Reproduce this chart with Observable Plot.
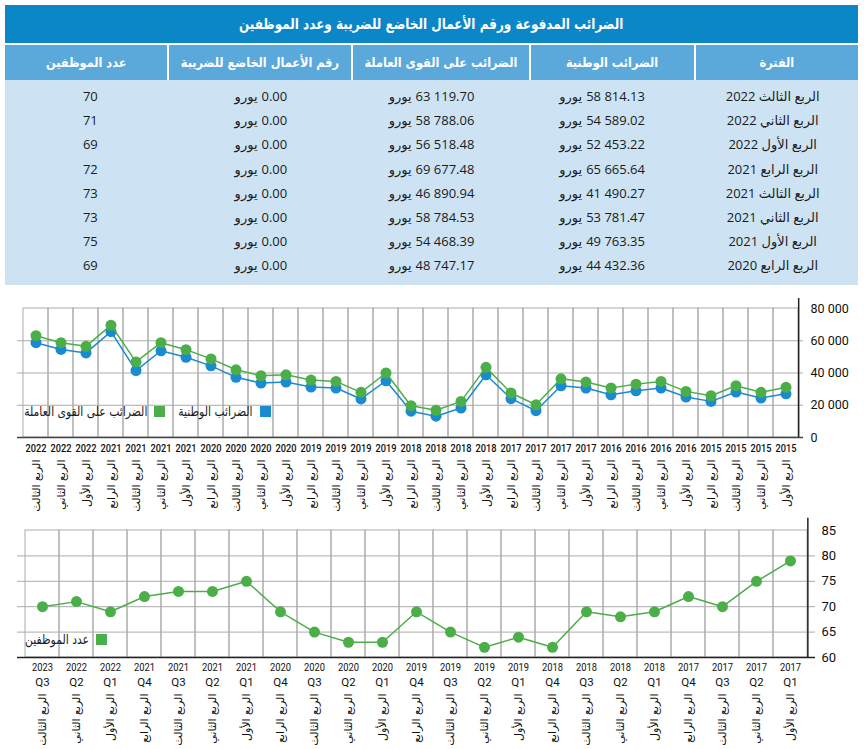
<!DOCTYPE html>
<html>
<head>
<meta charset="utf-8">
<script src="https://cdn.jsdelivr.net/npm/d3@7"></script>
<script src="https://cdn.jsdelivr.net/npm/@observablehq/plot@0.6"></script>
<style>
  body { margin:0; background:#fff; width:864px; height:749px; position:relative; overflow:hidden;
         font-family:"Open Sans","DejaVu Sans",sans-serif; }
  .title { position:absolute; left:5px; top:5px; width:853px; height:38px; line-height:38px;
           background:#0b87c8; color:#fff; text-align:center; font-weight:bold; font-size:15px;
           font-family:"DejaVu Sans",sans-serif; direction:rtl; }
  .title span { display:inline-block; transform:scaleX(0.8); transform-origin:center; white-space:nowrap; }
  .header { position:absolute; left:5px; top:45px; width:853px; height:35px; display:flex; direction:rtl; }
  .header div { flex:1; background:#5ba8da; color:#fff; font-weight:bold; font-size:13px; line-height:35px;
                text-align:center; font-family:"DejaVu Sans",sans-serif; border-left:2px solid #fff;
                white-space:nowrap; overflow:visible; }
  .header div span { display:inline-block; transform:scaleX(0.87); transform-origin:center; }
  .header div:last-child { border-left:none; }
  .rows { position:absolute; left:5px; top:80px; width:853px; height:205px; background:#cde3f4;
          box-sizing:border-box; padding-top:4px; }
  .row { display:flex; direction:rtl; height:24.2px; line-height:24.2px; }
  .row > div { flex:1; text-align:center; font-size:13px; color:#1b1b1b; display:flex; justify-content:center; }
  .row > div.val { direction:ltr; }
  .row > div.val span.cur { margin-right:4px; }
  .chart { position:absolute; left:0; }
  .legend { position:absolute; font-size:13px; color:#1b1b1b; font-family:"DejaVu Sans",sans-serif;
            display:flex; align-items:center; direction:rtl; white-space:nowrap; }
  .legend .sw { width:11px; height:11px; margin-left:7px; flex:none; }
  .legend .tx { display:inline-block; transform:scaleX(0.83); transform-origin:right center; }
</style>
</head>
<body>
<div class="title"><span id="title"></span></div>
<div class="header" id="header"></div>
<div class="rows" id="rows"></div>
<div class="chart" id="chart1" style="top:290px"></div>
<div class="chart" id="chart2" style="top:512px"></div>
<script>
// ---------- data ----------
const tableTitle = "الضرائب المدفوعة ورقم الأعمال الخاضع للضريبة وعدد الموظفين";
const tableHeaders = ["الفترة", "الضرائب الوطنية", "الضرائب على القوى العاملة", "رقم الأعمال الخاضع للضريبة", "عدد الموظفين"];
const tablePeriods = ["الربع الثالث 2022", "الربع الثاني 2022", "الربع الأول 2022", "الربع الرابع 2021",
                      "الربع الثالث 2021", "الربع الثاني 2021", "الربع الأول 2021", "الربع الرابع 2020"];
const tableNational = [58814.13, 54589.02, 52453.22, 65665.64, 41490.27, 53781.47, 49763.35, 44432.36];
const tableLabor = [63119.70, 58788.06, 56518.48, 69677.48, 46890.94, 58784.53, 54468.39, 48747.17];
const tableTurnover = [0, 0, 0, 0, 0, 0, 0, 0];
const tableEmployees = [70, 71, 69, 72, 73, 73, 75, 69];
const currency = "يورو";

const quarterNames = { Q1: "الربع الأول", Q2: "الربع الثاني", Q3: "الربع الثالث", Q4: "الربع الرابع" };

const chart1Periods = ["2022 Q3","2022 Q2","2022 Q1",
  "2021 Q4","2021 Q3","2021 Q2","2021 Q1",
  "2020 Q4","2020 Q3","2020 Q2","2020 Q1",
  "2019 Q4","2019 Q3","2019 Q2","2019 Q1",
  "2018 Q4","2018 Q3","2018 Q2","2018 Q1",
  "2017 Q4","2017 Q3","2017 Q2","2017 Q1",
  "2016 Q4","2016 Q3","2016 Q2","2016 Q1",
  "2015 Q4","2015 Q3","2015 Q2","2015 Q1"];
const chart1National = [58814, 54589, 52453, 65666, 41490, 53781, 49763, 44432,
  37300, 33800, 34400, 31300, 30700, 23900, 35200, 16300,
  13200, 18300, 38900, 24100, 16600, 32100, 30700, 26500,
  29000, 30700, 25100, 22400, 28200, 24500, 27100];
const chart1Labor = [63120, 58788, 56518, 69677, 46891, 58785, 54468, 48747,
  42000, 38300, 38900, 35600, 34800, 28000, 40000, 19700,
  16900, 22400, 43500, 27600, 20300, 36400, 34400, 30700,
  33100, 34800, 28600, 25900, 32100, 28000, 31100];
const chart1Ticks = [0, 20000, 40000, 60000, 80000];
const chart1Legend = ["الضرائب الوطنية", "الضرائب على القوى العاملة"];

const chart2Periods = ["2023 Q3","2022 Q2","2022 Q1",
  "2021 Q4","2021 Q3","2021 Q2","2021 Q1",
  "2020 Q4","2020 Q3","2020 Q2","2020 Q1",
  "2019 Q4","2019 Q3","2019 Q2","2019 Q1",
  "2018 Q4","2018 Q3","2018 Q2","2018 Q1",
  "2017 Q4","2017 Q3","2017 Q2","2017 Q1"];
const chart2Employees = [70, 71, 69, 72, 73, 73, 75, 69, 65, 63, 63, 69, 65, 62, 64, 62, 69, 68, 69, 72, 70, 75, 79];
const chart2Ticks = [60, 65, 70, 75, 80, 85];
const chart2Legend = "عدد الموظفين";

// ---------- colors ----------
const BLUE = "#1a8bd0";
const GREEN = "#4cae48";
const GRID = "#ababab";
const NUMFONT = '"Roboto","DejaVu Sans",sans-serif';
const ARFONT = '"DejaVu Sans",sans-serif';

// ---------- table ----------
document.getElementById("title").textContent = tableTitle;
const hdr = document.getElementById("header");
tableHeaders.forEach(h => {
  const d = document.createElement("div");
  const s = document.createElement("span"); s.textContent = h; d.appendChild(s);
  hdr.appendChild(d);
});
const num = v => d3.format(",.2f")(v).replace(/,/g, " ");
const rowsEl = document.getElementById("rows");
tablePeriods.forEach((p, i) => {
  const r = document.createElement("div"); r.className = "row";
  const c0 = document.createElement("div"); c0.textContent = p; c0.dir = "rtl"; r.appendChild(c0);
  [tableNational[i], tableLabor[i], tableTurnover[i]].forEach(v => {
    const d = document.createElement("div"); d.className = "val";
    const b = document.createElement("span"); b.className = "cur"; b.textContent = currency;
    const a = document.createElement("span"); a.textContent = num(v);
    d.appendChild(b); d.appendChild(a); r.appendChild(d);
  });
  const c4 = document.createElement("div"); c4.textContent = String(tableEmployees[i]); r.appendChild(c4);
  rowsEl.appendChild(r);
});

// compress year labels to a condensed look
function condenseYears(svg, len) {
  svg.querySelectorAll("text").forEach(t => {
    if (/^\d{4}$/.test(t.textContent.trim())) {
      t.setAttribute("textLength", len);
      t.setAttribute("lengthAdjust", "spacingAndGlyphs");
    }
  });
}

// ---------- chart 1 ----------
const W = 864;
const c1 = { h: 225, mt: 18, mb: 78, ml: 17, mr: 61 };
const bw1 = (W - c1.ml - c1.mr) / chart1Periods.length;
const data1 = chart1Periods.map((p, i) => ({ p, nat: chart1National[i], lab: chart1Labor[i] }));
const fmtK = d => d3.format(",")(d).replace(/,/g, " ");
const chart1 = Plot.plot({
  width: W, height: c1.h, marginTop: c1.mt, marginBottom: c1.mb, marginLeft: c1.ml, marginRight: c1.mr,
  style: { fontFamily: NUMFONT, background: "transparent", color: "#111" },
  x: { type: "band", domain: chart1Periods, padding: 0, axis: null },
  y: { domain: [0, 80000], axis: null },
  marks: [
    Plot.barY(chart1Periods, { x: d => d, y1: 0, y2: 80000, fill: "none", stroke: GRID, strokeWidth: 1 }),
    Plot.ruleY(chart1Ticks.slice(1, -1), { stroke: GRID, strokeWidth: 1 }),
    Plot.ruleY([0], { stroke: "#444", strokeWidth: 1.5 }),
    Plot.ruleX([chart1Periods[chart1Periods.length - 1]], { x: d => d, dx: bw1 / 2, y1: 0, y2: 86200, stroke: "#222", strokeWidth: 1.5 }),
    Plot.line(data1, { x: "p", y: "nat", stroke: BLUE, strokeWidth: 1.5 }),
    Plot.dot(data1, { x: "p", y: "nat", fill: BLUE, r: 5.5 }),
    Plot.line(data1, { x: "p", y: "lab", stroke: GREEN, strokeWidth: 1.5 }),
    Plot.dot(data1, { x: "p", y: "lab", fill: GREEN, r: 5.5 }),
    Plot.axisY({ anchor: "right", ticks: chart1Ticks, tickSize: 0, tickPadding: 7, tickFormat: fmtK, fontSize: 12.5, label: null }),
    Plot.axisX({ ticks: chart1Periods, tickSize: 0, tickPadding: 7, tickFormat: p => p.split(" ")[0], fontSize: 11, fontWeight: 500, label: null }),
    Plot.axisX({ ticks: chart1Periods, tickSize: 0, tickPadding: 22, tickRotate: -90, tickFormat: p => quarterNames[p.split(" ")[1]],
                 fontSize: 11, label: null, fontFamily: ARFONT })
  ]
});
condenseYears(chart1, 21);
document.getElementById("chart1").appendChild(chart1);

// ---------- chart 2 ----------
const c2 = { h: 237, mt: 18, mb: 92, ml: 17, mr: 49 };
const bw2 = (W - c2.ml - c2.mr) / chart2Periods.length;
const data2 = chart2Periods.map((p, i) => ({ p, v: chart2Employees[i] }));
const chart2 = Plot.plot({
  width: W, height: c2.h, marginTop: c2.mt, marginBottom: c2.mb, marginLeft: c2.ml, marginRight: c2.mr,
  style: { fontFamily: NUMFONT, background: "transparent", color: "#111" },
  x: { type: "band", domain: chart2Periods, padding: 0, axis: null },
  y: { domain: [60, 85], axis: null },
  marks: [
    Plot.barY(chart2Periods, { x: d => d, y1: 60, y2: 85, fill: "none", stroke: GRID, strokeWidth: 1 }),
    Plot.ruleY(chart2Ticks.slice(1, -1), { stroke: GRID, strokeWidth: 1 }),
    Plot.ruleY([60], { stroke: "#222", strokeWidth: 1.5 }),
    Plot.ruleX([chart2Periods[chart2Periods.length - 1]], { x: d => d, dx: bw2 / 2, y1: 60, y2: 87.4, stroke: "#222", strokeWidth: 1.5 }),
    Plot.line(data2, { x: "p", y: "v", stroke: GREEN, strokeWidth: 1.5 }),
    Plot.dot(data2, { x: "p", y: "v", fill: GREEN, r: 5.5 }),
    Plot.axisY({ anchor: "right", ticks: chart2Ticks, tickSize: 0, tickPadding: 6, fontSize: 13, label: null }),
    Plot.axisX({ ticks: chart2Periods, tickSize: 0, tickPadding: 5, tickFormat: p => p.split(" ")[0], fontSize: 11.5, label: null }),
    Plot.axisX({ ticks: chart2Periods, tickSize: 0, tickPadding: 20, tickFormat: p => p.split(" ")[1], fontSize: 11.5, label: null }),
    Plot.axisX({ ticks: chart2Periods, tickSize: 0, tickPadding: 36, tickRotate: -90, tickFormat: p => quarterNames[p.split(" ")[1]],
                 fontSize: 11, label: null, fontFamily: ARFONT })
  ]
});
condenseYears(chart2, 21);
document.getElementById("chart2").appendChild(chart2);

// ---------- legends ----------
function legendItem(text, color, right, top) {
  const el = document.createElement("div");
  el.className = "legend";
  el.style.right = (W - right) + "px";
  el.style.top = top + "px";
  el.innerHTML = `<span class="sw" style="background:${color}"></span><span class="tx"></span>`;
  el.lastChild.textContent = text;
  document.body.appendChild(el);
}
legendItem(chart1Legend[0], BLUE, 271, 404);
legendItem(chart1Legend[1], GREEN, 165, 404);
legendItem(chart2Legend, GREEN, 107, 632);
</script>
</body>
</html>
